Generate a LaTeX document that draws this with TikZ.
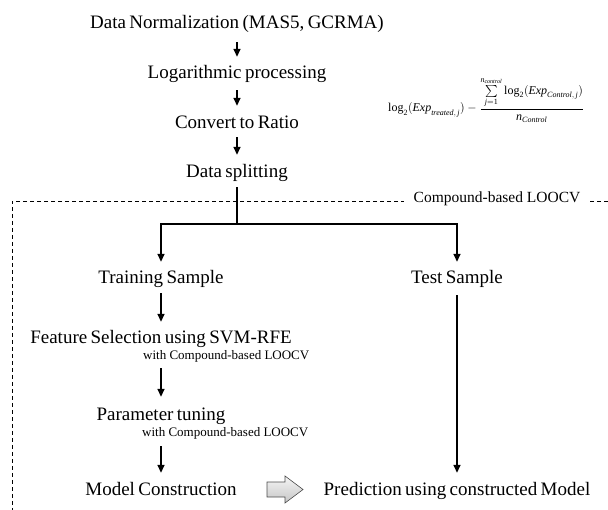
\documentclass[tikz,border=0pt]{standalone}
\usepackage{amsmath}
\usepackage{fontspec}
\setmainfont{Liberation Serif}
\usetikzlibrary{arrows.meta}
\newcommand\stagefont{\fontsize{19}{22}\selectfont\spaceskip=3.4pt\relax}

\begin{document}
\begin{tikzpicture}[x=1pt,y=-1pt,
  stage/.style={inner sep=0pt, anchor=base, text height=13pt, text depth=4pt,
    font=\stagefont},
  note/.style={inner sep=0pt, anchor=base west, text height=9pt, text depth=3pt,
    font=\fontsize{13}{15}\selectfont},
  wire/.style={line width=1.5pt},
  flow/.style={wire, -{Triangle[length=8pt,width=7pt]}},
  cvbox/.style={line width=0.9pt, dash pattern=on 4pt off 3pt},
]
\useasboundingbox (0,0) rectangle (608,510);

% cross-validation frame and its label
\draw[cvbox] (608,201) -- (12,201) -- (12,511);
\node[fill=white, inner xsep=10pt, inner ysep=2pt, anchor=base,
  font=\fontsize{15.5}{18}\selectfont] (cvlabel) at (497,203) {Compound-based LOOCV};

% preprocessing chain
\node[stage] (norm)  at (237,29)  {Data Normalization (MAS5, GCRMA)};
\node[stage] (logp)  at (237,79)  {Logarithmic processing};
\node[stage] (ratio) at (237,129) {Convert to Ratio};
\node[stage] (split) at (237,178) {Data splitting};

% ratio formula
\node[inner sep=0pt, anchor=base west, font=\fontsize{12}{14}\selectfont] (formula) at (388,112)
  {$\displaystyle \text{log}_{\text{2}}(\textit{Exp}_{\textit{treated},\,\textit{j}})
   - \frac{\sum\limits_{\textit{j}=\text{1}}^{\textit{n}_{\textit{control}}}
     \text{log}_{\text{2}}(\textit{Exp}_{\textit{Control},\,\textit{j}})}
     {\textit{n}_{\textit{Control}}}$};

% training / test branches
\node[stage] (train)   at (161,284) {Training Sample};
\node[stage] (test)    at (457,284) {Test Sample};
\node[stage] (feat)    at (161,344) {Feature Selection using SVM-RFE};
\node[note]  (featcv)  at (143,360) {with Compound-based LOOCV};
\node[stage] (param)   at (161,421) {Parameter tuning};
\node[note]  (paramcv) at (142,437) {with Compound-based LOOCV};
\node[stage] (model)   at (161,496) {Model Construction};
\node[stage] (pred)    at (457,496) {Prediction using constructed Model};

\coordinate (fork) at (237,224);

% connectors
\draw[flow, shorten <=9pt, shorten >=9pt]  (norm.south)  -- (logp.north);
\draw[flow, shorten <=7pt, shorten >=10pt] (logp.south)  -- (ratio.north);
\draw[flow, shorten <=4pt, shorten >=10pt] (ratio.south) -- (split.north);
\draw[wire, shorten <=5pt] (split.south) -- (fork);
\draw[flow, shorten >=9pt] (fork) -| (train.north);
\draw[flow, shorten >=9pt] (fork) -| (test.north);
\draw[flow, shorten <=5pt, shorten >=9pt]  (train.south) -- (feat.north);
\draw[flow, shorten <=5pt, shorten >=11pt] (feat.south |- featcv.south) -- (param.north);
\draw[flow, shorten <=6pt, shorten >=10pt] (param.south |- paramcv.south) -- (model.north);
\draw[flow, shorten <=7pt, shorten >=10pt] (test.south) -- (pred.north);

% hand-over from model to prediction
\draw[draw=gray!60!black, line width=0.6pt, top color=gray!8, bottom color=gray!45]
  (267,482) -- (285,482) -- (285,476) -- (303,489.5) -- (285,503) -- (285,497) -- (267,497) -- cycle;

\end{tikzpicture}
\end{document}
